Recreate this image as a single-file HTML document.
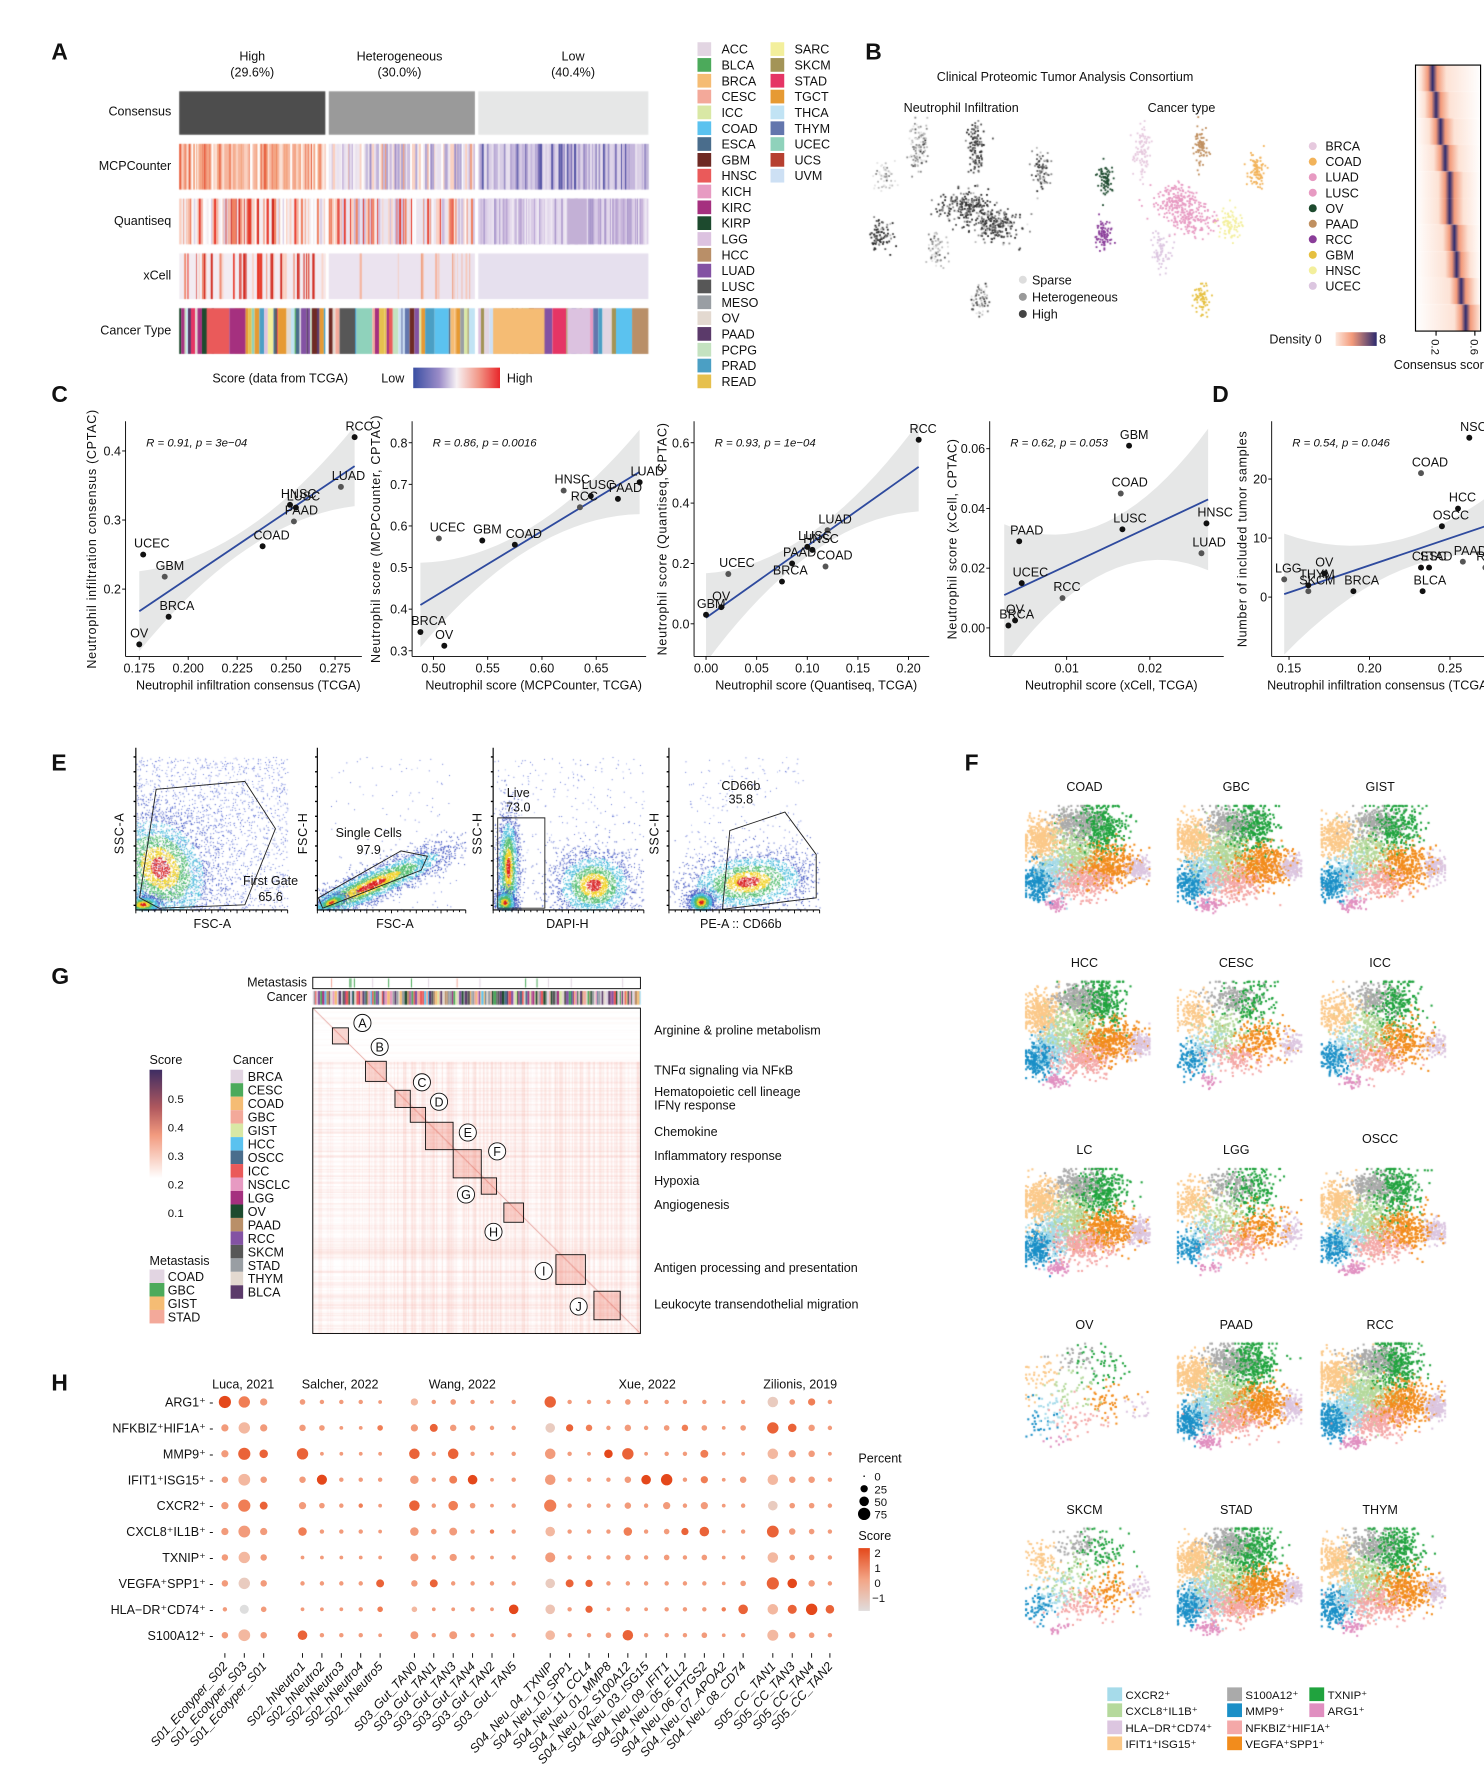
<!DOCTYPE html>
<html><head><meta charset="utf-8"><title>Neutrophil figure</title>
<style>
body{margin:0;background:#fff}
#wrap{position:relative;width:1484px;height:1789px;overflow:hidden;background:#fff}
canvas,svg{position:absolute;left:0;top:0}
.t{font-family:"Liberation Sans",sans-serif;font-size:11px;fill:#111}
.s{font-size:10px}
.L{font-family:"Liberation Sans",sans-serif;font-size:20px;font-weight:bold;fill:#111}
.it{font-style:italic}
</style></head><body>
<div id="wrap">
<canvas id="cv" width="1484" height="1789"></canvas>
<svg id="sv" width="1484" height="1789" viewBox="0 0 1300 1567" preserveAspectRatio="none">
<!-- panel letters -->
<text class="L" x="45" y="52">A</text>
<text class="L" x="758" y="52">B</text>
<text class="L" x="45" y="352">C</text>
<text class="L" x="1062" y="352">D</text>
<text class="L" x="45" y="675">E</text>
<text class="L" x="845" y="675">F</text>
<text class="L" x="45" y="862">G</text>
<text class="L" x="45" y="1218">H</text>

<!-- Panel A -->
<g text-anchor="middle">
<text class="t" x="221" y="53">High</text><text class="t" x="221" y="67">(29.6%)</text>
<text class="t" x="350" y="53">Heterogeneous</text><text class="t" x="350" y="67">(30.0%)</text>
<text class="t" x="502" y="53">Low</text><text class="t" x="502" y="67">(40.4%)</text>
</g>
<g text-anchor="end">
<text class="t" x="150" y="101">Consensus</text>
<text class="t" x="150" y="149">MCPCounter</text>
<text class="t" x="150" y="197">Quantiseq</text>
<text class="t" x="150" y="245">xCell</text>
<text class="t" x="150" y="293">Cancer Type</text>
</g>
<defs>
<linearGradient id="gA" x1="0" x2="1"><stop offset="0" stop-color="#3a4fa3"/><stop offset="0.3" stop-color="#9b8cc8"/><stop offset="0.5" stop-color="#f7f1f4"/><stop offset="0.75" stop-color="#f29a8a"/><stop offset="1" stop-color="#e8262a"/></linearGradient>
<linearGradient id="gD" x1="0" x2="1"><stop offset="0" stop-color="#fde7dc"/><stop offset="0.4" stop-color="#f39a7a"/><stop offset="1" stop-color="#2c2a6e"/></linearGradient>
<linearGradient id="gG" x1="0" x2="0" y1="0" y2="1"><stop offset="0" stop-color="#3e2d63"/><stop offset="0.35" stop-color="#b0585e"/><stop offset="0.6" stop-color="#f29a7e"/><stop offset="1" stop-color="#ffffff"/></linearGradient>
<linearGradient id="gH" x1="0" x2="0" y1="0" y2="1"><stop offset="0" stop-color="#e4481b"/><stop offset="0.5" stop-color="#f3a586"/><stop offset="1" stop-color="#e0dcdc"/></linearGradient>
</defs>
<g>
<text class="t" x="186" y="335">Score (data from TCGA)</text>
<text class="t" x="334" y="335">Low</text>
<rect x="362" y="322" width="76" height="18" fill="url(#gA)"/>
<text class="t" x="444" y="335">High</text>
</g>
<g id="legA"></g>

<!-- Panel B -->
<text class="t" x="933" y="71" text-anchor="middle">Clinical Proteomic Tumor Analysis Consortium</text>
<text class="t" x="842" y="98" text-anchor="middle">Neutrophil Infiltration</text>
<text class="t" x="1035" y="98" text-anchor="middle">Cancer type</text>
<g>
<circle cx="896" cy="245" r="3.5" fill="#ddd"/><text class="t" x="904" y="249">Sparse</text>
<circle cx="896" cy="260" r="3.5" fill="#999"/><text class="t" x="904" y="264">Heterogeneous</text>
<circle cx="896" cy="275" r="3.5" fill="#444"/><text class="t" x="904" y="279">High</text>
</g>
<g id="legB"></g>
<g>
<text class="t" x="1112" y="301">Density 0</text>
<rect x="1170" y="291" width="36" height="12" fill="url(#gD)"/>
<text class="t" x="1208" y="301">8</text>
<rect x="1240" y="57" width="57" height="233" fill="none" stroke="#000" stroke-width="1"/>
<line x1="1258" y1="290" x2="1258" y2="294" stroke="#000"/><line x1="1292" y1="290" x2="1292" y2="294" stroke="#000"/>
<text class="t s" transform="translate(1254,297) rotate(90)">0.2</text>
<text class="t s" transform="translate(1288,297) rotate(90)">0.6</text>
<text class="t" x="1221" y="323">Consensus score</text>
</g>

<!-- Panel C / D -->
<g id="plots"></g>

<!-- Panel E -->
<g id="flow"></g>

<!-- Panel F -->
<g id="umapT"></g>
<g id="legF"></g>

<!-- Panel G -->
<g>
<text class="t" x="269" y="864" text-anchor="end">Metastasis</text>
<text class="t" x="269" y="877" text-anchor="end">Cancer</text>
<rect x="274" y="856" width="287" height="10" fill="none" stroke="#000" stroke-width="0.8"/>
<rect x="274" y="883" width="287" height="285" fill="none" stroke="#000" stroke-width="0.8"/>
</g>
<g id="gBoxes"></g>
<g>
<text class="t" x="573" y="906">Arginine &amp; proline metabolism</text>
<text class="t" x="573" y="941">TNFα signaling via NFκB</text>
<text class="t" x="573" y="960">Hematopoietic cell lineage</text>
<text class="t" x="573" y="972">IFNγ response</text>
<text class="t" x="573" y="995">Chemokine</text>
<text class="t" x="573" y="1016">Inflammatory response</text>
<text class="t" x="573" y="1038">Hypoxia</text>
<text class="t" x="573" y="1059">Angiogenesis</text>
<text class="t" x="573" y="1114">Antigen processing and presentation</text>
<text class="t" x="573" y="1146">Leukocyte transendothelial migration</text>
</g>
<g>
<text class="t" x="131" y="932">Score</text>
<rect x="131" y="937" width="11" height="95" fill="url(#gG)"/>
<text class="t s" x="147" y="966">0.5</text><text class="t s" x="147" y="991">0.4</text>
<text class="t s" x="147" y="1016">0.3</text><text class="t s" x="147" y="1041">0.2</text>
<text class="t s" x="147" y="1066">0.1</text>
<text class="t" x="131" y="1108">Metastasis</text>
<text class="t" x="204" y="932">Cancer</text>
</g>
<g id="legG"></g>

<!-- Panel H -->
<g text-anchor="middle">
<text class="t" x="213" y="1216">Luca, 2021</text>
<text class="t" x="298" y="1216">Salcher, 2022</text>
<text class="t" x="405" y="1216">Wang, 2022</text>
<text class="t" x="567" y="1216">Xue, 2022</text>
<text class="t" x="701" y="1216">Zilionis, 2019</text>
</g>
<g id="dots"></g>
<g>
<text class="t" x="752" y="1281">Percent</text>
<circle cx="757" cy="1293" r="0.7" fill="#000"/><text class="t s" x="766" y="1297">0</text>
<circle cx="757" cy="1304" r="3.2" fill="#000"/><text class="t s" x="766" y="1308">25</text>
<circle cx="757" cy="1315" r="4.2" fill="#000"/><text class="t s" x="766" y="1319">50</text>
<circle cx="757" cy="1326" r="5.4" fill="#000"/><text class="t s" x="766" y="1330">75</text>
<text class="t" x="752" y="1349">Score</text>
<rect x="752" y="1356" width="10" height="55" fill="url(#gH)"/>
<text class="t s" x="766" y="1364">2</text><text class="t s" x="766" y="1377">1</text>
<text class="t s" x="766" y="1390">0</text><text class="t s" x="764" y="1403">−1</text>
</g>
</svg>
</div>
<script>
// ---------- chart data (panel C / D) ----------
const c1Names=["RCC","LUAD","HNSC","LUSC","PAAD","COAD","UCEC","GBM","BRCA","OV"];
const c1X=[0.285,0.278,0.252,0.255,0.254,0.238,0.177,0.188,0.190,0.175];
const c1Y=[0.420,0.348,0.322,0.318,0.298,0.262,0.250,0.218,0.160,0.120];
const c2Names=["LUAD","HNSC","LUSC","PAAD","RCC","COAD","GBM","UCEC","BRCA","OV"];
const c2X=[0.690,0.620,0.645,0.670,0.635,0.575,0.545,0.505,0.488,0.510];
const c2Y=[0.705,0.685,0.672,0.665,0.645,0.555,0.565,0.570,0.345,0.312];
const c3Names=["RCC","LUAD","LUSC","HNSC","COAD","PAAD","BRCA","UCEC","OV","GBM"];
const c3X=[0.210,0.120,0.100,0.105,0.118,0.085,0.075,0.022,0.015,0.000];
const c3Y=[0.610,0.310,0.255,0.245,0.190,0.200,0.140,0.165,0.055,0.030];
const c4Names=["GBM","COAD","HNSC","LUSC","LUAD","PAAD","UCEC","RCC","OV","BRCA"];
const c4X=[0.0175,0.0165,0.0268,0.0167,0.0262,0.0043,0.0046,0.0095,0.0038,0.0030];
const c4Y=[0.061,0.045,0.035,0.033,0.025,0.029,0.015,0.010,0.0025,0.0008];
const dNames=["NSCLC","COAD","HCC","OSCC","PAAD","CESC","STAD","LGG","THYM","OV","SKCM","BRCA","BLCA","RCC"];
const dX=[0.262,0.232,0.255,0.245,0.258,0.232,0.237,0.147,0.162,0.172,0.162,0.190,0.233,0.272];
const dY=[27,21,15,12,6,5,5,3,2,4,1,1,1,5];
const c1Ticks=[0.175,0.2,0.225,0.25,0.275], c1YT=[0.2,0.3,0.4];
const c2Ticks=[0.5,0.55,0.6,0.65], c2YT=[0.3,0.4,0.5,0.6,0.7,0.8];
const c3Ticks=[0,0.05,0.1,0.15,0.2], c3YT=[0,0.2,0.4,0.6];
const c4Ticks=[0.01,0.02], c4YT=[0,0.02,0.04,0.06];
const dTicks=[0.15,0.2,0.25], dYT=[0,10,20];
const stats=["R = 0.91, p = 3e−04","R = 0.86, p = 0.0016","R = 0.93, p = 1e−04","R = 0.62, p = 0.053","R = 0.54, p = 0.046"];
// ---------- dot plot data (panel H) ----------
const hRows=["ARG1⁺","NFKBIZ⁺HIF1A⁺","MMP9⁺","IFIT1⁺ISG15⁺","CXCR2⁺","CXCL8⁺IL1B⁺","TXNIP⁺","VEGFA⁺SPP1⁺","HLA−DR⁺CD74⁺","S100A12⁺"];
const hCols=["S01_Ecotyper_S02","S01_Ecotyper_S03","S01_Ecotyper_S01","S02_hNeutro1","S02_hNeutro2","S02_hNeutro3","S02_hNeutro4","S02_hNeutro5","S03_Gut_TAN0","S03_Gut_TAN1","S03_Gut_TAN3","S03_Gut_TAN4","S03_Gut_TAN2","S03_Gut_TAN5","S04_Neu_04_TXNIP","S04_Neu_10_SPP1","S04_Neu_11_CCL4","S04_Neu_01_MMP8","S04_Neu_02_S100A12","S04_Neu_03_ISG15","S04_Neu_09_IFIT1","S04_Neu_05_ELL2","S04_Neu_06_PTGS2","S04_Neu_07_APOA2","S04_Neu_08_CD74","S05_CC_TAN1","S05_CC_TAN3","S05_CC_TAN4","S05_CC_TAN2"];
const hPct=[
[70,60,20,10,5,5,5,3,20,5,10,5,3,5,60,5,5,5,10,5,5,5,5,3,5,50,10,20,5],
[20,60,20,15,10,3,3,10,20,25,15,10,5,5,40,20,15,5,15,5,10,15,10,3,10,60,30,15,5],
[20,70,30,60,3,3,3,3,50,5,50,5,3,5,50,5,3,30,60,3,5,5,25,3,3,50,20,15,3],
[15,65,15,15,45,5,5,5,30,5,25,40,3,5,50,5,5,5,15,40,60,5,20,3,15,50,15,15,5],
[20,70,25,20,10,5,5,3,50,5,40,10,3,5,70,5,5,5,15,5,20,5,20,3,5,40,10,10,5],
[20,65,20,30,5,5,5,3,30,10,25,5,5,5,40,5,5,5,30,5,10,20,40,3,5,65,15,10,5],
[15,60,15,3,3,3,3,3,25,5,20,5,3,5,45,5,5,5,10,5,10,5,10,3,5,50,10,10,5],
[15,60,15,5,5,5,5,25,15,25,5,5,5,5,40,25,20,5,5,5,5,5,5,3,10,70,40,15,5],
[5,35,10,3,3,3,5,10,10,3,3,5,3,40,40,5,20,3,5,3,5,5,5,5,40,50,35,60,30],
[15,65,15,40,5,5,5,3,25,5,25,5,3,5,40,5,5,10,50,5,5,5,10,3,5,55,15,10,5]];
const hScore=[
[2,1,.5,.5,.5,.5,.5,.5,0,.5,.5,.5,.5,.5,1.5,.5,.5,.5,.5,.5,.5,.5,.5,.5,.5,-.5,.5,1,.5],
[.5,0,.5,.5,.5,.5,.5,1,.5,1.5,.5,.5,.5,.5,-.5,1.5,1,.5,.5,.5,.5,1,.5,.5,.5,1.5,1.5,.5,.5],
[.5,1.5,1.5,1.5,.5,.5,.5,.5,1.5,.5,1.5,.5,.5,.5,.5,.5,.5,2,1.5,.5,.5,.5,1,.5,.5,0,.5,.5,.5],
[.5,0,.5,.5,2,.5,.5,.5,.5,.5,1,2,.5,.5,.5,.5,.5,.5,.5,2,2,.5,1,.5,.5,0,.5,.5,.5],
[.5,1,1.5,.5,.5,.5,1,.5,1.5,.5,1,.5,.5,.5,1,.5,.5,.5,.5,.5,.5,.5,.5,.5,.5,-.5,.5,.5,.5],
[.5,.5,.5,1,.5,.5,.5,.5,.5,.5,.5,.5,1,.5,0,.5,.5,.5,1,.5,.5,1.5,1.5,.5,.5,1.5,.5,.5,.5],
[.5,0,.5,.5,.5,.5,.5,.5,.5,.5,.5,.5,.5,.5,.5,.5,.5,.5,.5,.5,.5,.5,.5,.5,.5,0,.5,.5,.5],
[.5,-.5,.5,.5,.5,.5,.5,1.5,.5,1.5,.5,.5,.5,.5,-.5,1.5,1.5,.5,.5,.5,.5,.5,.5,.5,.5,1.5,2,.5,.5],
[.5,-1,.5,.5,.5,.5,.5,1,0,.5,.5,.5,.5,2,-.3,.5,1.5,.5,.5,.5,.5,.5,.5,1,1.5,0,1.5,2,1.5],
[.5,0,.5,1.5,.5,.5,.5,.5,.5,.5,.5,.5,.5,.5,0,.5,.5,.5,1.5,.5,.5,.5,.5,.5,.5,0,.5,.5,.5]];
const hColX=[197,214,231,265,282,299,316,333,363,380,397,414,431,450,482,499,516,533,550,566,584,600,617,634,651,677,694,711,727];

// ---------- helpers ----------
const NS="http://www.w3.org/2000/svg";
function add(p,tag,a,txt){const e=document.createElementNS(NS,tag);for(const k in a)e.setAttribute(k,a[k]);if(txt!==undefined)e.textContent=txt;p.appendChild(e);return e;}
let seed=12345;function rnd(){seed|=0;seed=seed+0x6D2B79F5|0;let t=Math.imul(seed^seed>>>15,1|seed);t=t+Math.imul(t^t>>>7,61|t)^t;return((t^t>>>14)>>>0)/4294967296;}
function gauss(){let u=1-rnd(),v=rnd();return Math.sqrt(-2*Math.log(u))*Math.cos(2*Math.PI*v);}
const cv=document.getElementById('cv');const ctx=cv.getContext('2d');
ctx.setTransform(1484/1300,0,0,1789/1567,0,0);
const pick=a=>a[Math.floor(rnd()*a.length)];

// ---------- Panel A ----------
const aNames1=["ACC","BLCA","BRCA","CESC","ICC","COAD","ESCA","GBM","HNSC","KICH","KIRC","KIRP","LGG","HCC","LUAD","LUSC","MESO","OV","PAAD","PCPG","PRAD","READ"];
const aCols1=["#e2d5e2","#4caa5b","#f5bc74","#f3a99a","#d9e8a5","#5bc2ef","#4a6d8c","#6e2a24","#ea5a5a","#e79ac2","#a5307f","#1d4a2e","#dcc2e0","#b98f68","#8352a3","#575757","#999ea3","#e3d9d0","#5b3a6a","#c4e2c0","#4b9fc4","#e6c04e"];
const aNames2=["SARC","SKCM","STAD","TGCT","THCA","THYM","UCEC","UCS","UVM"];
const aCols2=["#f3ef9c","#a39457","#e53565","#e69a33","#c1e3f4","#6376ad","#8fd2bb","#b64030","#cde0f4"];
const legA=document.getElementById('legA');
aNames1.forEach((n,i)=>{const y=37+i*13.86;
 const r=add(legA,'rect',{x:611,y:y,width:12,height:12,fill:aCols1[i]});
 
 const t=add(legA,'text',{class:'t',x:632,y:y+10},n);
 });
aNames2.forEach((n,i)=>{const y=37+i*13.86;
 const r=add(legA,'rect',{x:675,y:y,width:12,height:12,fill:aCols2[i]});
 
 const t=add(legA,'text',{class:'t',x:696,y:y+10},n);
 });
const secs=[[157,285],[288,416],[419,568]];
ctx.fillStyle="#4d4d4d";ctx.fillRect(157,80,128,38);
ctx.fillStyle="#9a9a9a";ctx.fillRect(288,80,128,38);
ctx.fillStyle="#e6e7e7";ctx.fillRect(419,80,149,38);
function stripes(x0,x1,y0,y1,base,pal,p){ctx.fillStyle=base;ctx.fillRect(x0,y0,x1-x0,y1-y0);let x=x0;while(x<x1){const w=0.5+rnd()*1.6;if(rnd()<p){ctx.fillStyle=pick(pal);ctx.fillRect(x,y0,Math.min(w,x1-x),y1-y0);}x+=w;}}
stripes(157,285,126,166,"#fbe0d4",["#f4a582","#ef8a62","#fbd0bf","#e8603f","#f6b59d","#fff","#f08a6a"],0.9);
stripes(288,416,126,166,"#eee6ef",["#c9b8dc","#9d8ec7","#fbd0bf","#ef9a7a","#e8e0ef","#b0a4d2","#fff"],0.85);
stripes(419,568,126,166,"#ddd3e8",["#d8cde6","#b7a7d4","#7f73b8","#e8e0ef","#5a58a8","#c4b6dc","#9a8ec6"],0.85);
stripes(157,285,174,214,"#f4eef2",["#e8392a","#f08060","#fbd0c0","#dcd0e6","#fff","#f5b5a0","#d0281e"],0.7);
stripes(288,416,174,214,"#ece4ee",["#f08060","#d0c0e0","#fbd0c0","#e8392a","#fff","#c8b8dc"],0.7);
stripes(419,568,174,214,"#d9cbe6",["#c9b5db","#b9a5d3","#e6dcee","#a997cb","#f0eaf4"],0.75);
ctx.fillStyle="#c3b0d6";ctx.fillRect(497,174,17,40);
stripes(157,285,222,262,"#f3ecf2",["#e8392a","#f08a70","#fbd0c0","#d22a20"],0.35);
stripes(288,416,222,262,"#ebe3ef",["#f5b5a0","#f7c8b8","#f0a080"],0.12);
ctx.fillStyle="#e6e0ee";ctx.fillRect(419,222,149,40);
const allCancer=aCols1.concat(aCols2);
for(const [x0,x1] of secs){let x=x0;while(x<x1){const w=rnd()<0.18?6+rnd()*14:1+rnd()*4;ctx.fillStyle=pick(allCancer);ctx.fillRect(x,270,Math.min(w,x1-x),40);x+=w;}}
ctx.fillStyle="#f5bc74";ctx.fillRect(432,270,45,40);ctx.fillStyle="#dcc2e0";ctx.fillRect(497,270,20,40);
ctx.fillStyle="#ea5a5a";ctx.fillRect(181,270,20,40);ctx.fillStyle="#a5307f";ctx.fillRect(201,270,14,40);

// ---------- Panel B ----------
const bNames=["BRCA","COAD","LUAD","LUSC","OV","PAAD","RCC","GBM","HNSC","UCEC"];
const bCols=["#e6c9de","#f2b35a","#e79ac2","#e79ac2","#1d4a2e","#c09060","#8a3d99","#e6c040","#f3ef9c","#dcc6e0"];
const legB=document.getElementById('legB');
bNames.forEach((n,i)=>{const y=128+i*13.6;
 const c=add(legB,'circle',{cx:1150,cy:y,r:3.5,fill:bCols[i]});
 
 const t=add(legB,'text',{class:'t',x:1161,y:y+4},n);
 });
function blob(cx,cy,sx,sy,n,colf,sz){for(let i=0;i<n;i++){ctx.fillStyle=colf();ctx.fillRect(cx+gauss()*sx,cy+gauss()*sy,sz,sz);}}
const grays=["#e3e3e3","#bbbbbb","#8a8a8a","#555555","#2a2a2a"];
function gcol(d){return()=>grays[Math.min(4,Math.max(0,Math.floor(d*5+gauss()*1.1)))];}
[[804,128,4,11,110,0.35],[854,130,3.5,12,110,0.8],[775,155,4,6,50,0.15],[911,149,4,8,80,0.6],[845,180,11,7,220,0.75],[871,197,11,7,220,0.7],[771,205,5,7,80,0.85],[821,219,4,8,60,0.35],[858,263,4,7,60,0.5]].forEach(c=>blob(c[0],c[1],c[2],c[3],c[4],gcol(c[5]),1.6));
[[1000,132,3.5,12,90,"#e6c9de"],[1051,130,3,10,80,"#c09060"],[1100,150,4,8,90,"#f2b35a"],[967,157,3,6,70,"#1d4a2e"],[1030,175,10,8,200,"#e79ac2"],[1045,192,10,7,150,"#e79ac2"],[1077,196,5,7,90,"#f3ef9c"],[966,205,4,6,80,"#8a3d99"],[1017,220,4,8,70,"#dcc6e0"],[1052,262,3.5,7,70,"#e6c040"]].forEach(c=>blob(c[0],c[1],c[2],c[3],c[4],()=>c[5],1.6));
const peaks=[1255,1258,1262,1266,1270,1270,1274,1276,1280,1284];
peaks.forEach((p,i)=>{const y0=57+i*23.3;const g=ctx.createLinearGradient(1240,0,1297,0);
 const f=(x)=>(x-1240)/57;
 g.addColorStop(0,"#fff");g.addColorStop(Math.max(0,f(p-10)),"#fde3d6");g.addColorStop(f(p-4),"#f39a7a");g.addColorStop(f(p),"#2c2a6e");g.addColorStop(f(p+4),"#f39a7a");g.addColorStop(Math.min(1,f(p+12)),"#fde3d6");g.addColorStop(1,"#fff");
 ctx.fillStyle=g;ctx.fillRect(1240,y0,57,23.3);});

// ---------- Panels C / D ----------
const plots=[
 {n:c1Names,x:c1X,y:c1Y,xt:c1Ticks,yt:c1YT,xr:[0.175,122,0.275,293.5],yr:[0.2,516,0.4,395],L:110,R:317,line:[0.175,0.168,0.285,0.378],band:[9,26],dec:3,yl:"Neutrophil infiltration consensus (CPTAC)",xl:"Neutrophil infiltration consensus (TCGA)",ylx:84},
 {n:c2Names,x:c2X,y:c2Y,xt:c2Ticks,yt:c2YT,xr:[0.5,379.7,0.65,522.3],yr:[0.3,570,0.8,387.8],L:361,R:566,line:[0.488,0.41,0.69,0.73],band:[9,28],dec:2,yl:"Neutrophil score (MCPCounter, CPTAC)",xl:"Neutrophil score (MCPCounter, TCGA)",ylx:333},
 {n:c3Names,x:c3X,y:c3Y,xt:c3Ticks,yt:c3YT,xr:[0,618.5,0.2,795.9],yr:[0,546.4,0.6,387.8],L:608,R:814,line:[0,0.02,0.21,0.52],band:[9,30],dec:2,yl:"Neutrophil score (Quantiseq, CPTAC)",xl:"Neutrophil score (Quantiseq, TCGA)",ylx:584},
 {n:c4Names,x:c4X,y:c4Y,xt:c4Ticks,yt:c4YT,xr:[0.01,934.4,0.02,1007.3],yr:[0,550,0.06,393],L:867,R:1072,line:[0.0025,0.011,0.027,0.043],band:[22,40],dec:2,yl:"Neutrophil score (xCell, CPTAC)",xl:"Neutrophil score (xCell, TCGA)",ylx:838},
 {n:dNames,x:dX,y:dY,xt:dTicks,yt:dYT,xr:[0.15,1129.2,0.25,1270.2],yr:[0,523,20,419.6],L:1114,R:1300,line:[0.147,0.5,0.31,15.5],band:[13,40],dec:2,yl:"Number of included tumor samples",xl:"Neutrophil infiltration consensus (TCGA)",ylx:1092,intY:true}];
const PG=document.getElementById('plots');
const TOP=369,BOT=575;
plots.forEach((P,pi)=>{
 const sx=v=>P.xr[1]+(v-P.xr[0])*(P.xr[3]-P.xr[1])/(P.xr[2]-P.xr[0]);
 const sy=v=>P.yr[1]+(v-P.yr[0])*(P.yr[3]-P.yr[1])/(P.yr[2]-P.yr[0]);
 const g=add(PG,'g',{});
 
 const cp=add(g,'clipPath',{id:'cp'+pi});add(cp,'rect',{x:P.L,y:TOP,width:P.R-P.L,height:BOT-TOP});
 const x0=P.line[0],x1=P.line[2],xm=(x0+x1)/2;let up=[],dn=[];
 for(let k=0;k<=20;k++){const xv=x0+(x1-x0)*k/20;const yv=P.line[1]+(P.line[3]-P.line[1])*k/20;const w=P.band[0]+P.band[1]*Math.pow((xv-xm)/(x1-xm),2);up.push(sx(xv)+','+(sy(yv)-w));dn.unshift(sx(xv)+','+(sy(yv)+w));}
 const band=add(g,'polygon',{points:up.concat(dn).join(' '),fill:'#e6e7e7','clip-path':'url(#cp'+pi+')'});
 
 const ln=add(g,'line',{x1:sx(x0),y1:sy(P.line[1]),x2:sx(x1),y2:sy(P.line[3]),stroke:'#2e4a9e','stroke-width':1.6,'clip-path':'url(#cp'+pi+')'});
 
 add(g,'line',{x1:P.L,y1:TOP,x2:P.L,y2:BOT,stroke:'#000','stroke-width':0.8});
 add(g,'line',{x1:P.L,y1:BOT,x2:P.R,y2:BOT,stroke:'#000','stroke-width':0.8});
 P.xt.forEach(v=>{add(g,'line',{x1:sx(v),y1:BOT,x2:sx(v),y2:BOT+3,stroke:'#000','stroke-width':0.8});
  const t=add(g,'text',{class:'t',x:sx(v),y:BOT+14,'text-anchor':'middle'},P.intY?v.toFixed(2):(pi===0?v.toFixed(3):v.toFixed(2)));
  });
 P.yt.forEach(v=>{add(g,'line',{x1:P.L-3,y1:sy(v),x2:P.L,y2:sy(v),stroke:'#000','stroke-width':0.8});
  const t=add(g,'text',{class:'t',x:P.L-4,y:sy(v)+4,'text-anchor':'end'},P.intY?String(v):(pi===0?v.toFixed(1):(pi===3?v.toFixed(2):v.toFixed(1))));
  });
 const st=add(g,'text',{class:'t s it',x:P.L+18,y:391},stats[pi]);
 
 const yt=add(g,'text',{class:'t',transform:`translate(${P.ylx},${(TOP+BOT)/2}) rotate(-90)`,'text-anchor':'middle','letter-spacing':'0.6'},P.yl);
 
 const xt=add(g,'text',{class:'t',x:pi===4?1110:(P.L+P.R)/2+4,y:604,'text-anchor':pi===4?'start':'middle'},P.xl);
 
 P.n.forEach((nm,i)=>{const cx=sx(P.x[i]),cy=sy(P.y[i]);
  const c=add(g,'circle',{cx:cx,cy:cy,r:2.6,fill:i%3===1?'#555':'#111'});
  
  const t=add(g,'text',{class:'t',x:cx-8,y:cy-6},nm);
  });
});

// ---------- Panel E (flow cytometry) ----------
const FG=document.getElementById('flow');
const boxes=[[119,252],[278,408],[432,564],[586,718]];
const FY0=663,FY1=797;
function dcol(r){return r<0.35?"#d7191c":r<0.7?"#f0d020":r<1.1?"#4cba6a":r<1.6?"#3fb8d8":"#3a4fbf";}
function flowBlob(cx,cy,sx,sy,n,rot,bx){const c=Math.cos(rot),s=Math.sin(rot);for(let i=0;i<n;i++){const a=gauss(),b=gauss();const r=Math.sqrt(a*a+b*b);const x=cx+(a*sx)*c-(b*sy)*s,y=cy+(a*sx)*s+(b*sy)*c;if(x<bx[0]||x>bx[1]||y<FY0||y>FY1)continue;ctx.fillStyle=dcol(r);ctx.fillRect(x,y,0.9,0.9);}}
function uni(bx,n){for(let i=0;i<n;i++){ctx.fillStyle=rnd()<0.85?"#4a5fd0":"#8fa0e8";ctx.fillRect(bx[0]+rnd()*(bx[1]-bx[0]),FY0+rnd()*(FY1-FY0),0.8,0.8);}}
uni(boxes[0],1800);flowBlob(140,760,22,28,3500,-0.6,boxes[0]);flowBlob(125,792,8,4,800,0,boxes[0]);
uni([290,400],120);flowBlob(325,775,40,7,3500,-0.42,boxes[1]);flowBlob(290,790,8,3,500,-0.4,boxes[1]);
uni(boxes[2],300);flowBlob(445,760,5,25,1800,0,boxes[2]);flowBlob(442,790,5,5,600,0,boxes[2]);flowBlob(520,775,18,15,2200,0,boxes[2]);
uni([600,705],250);flowBlob(655,772,28,13,2500,-0.1,boxes[3]);flowBlob(614,790,6,5,900,0,boxes[3]);
boxes.forEach((b,i)=>{
 const ax=add(FG,'path',{d:`M${b[0]},${FY0-8}V${FY1}H${b[1]}`,fill:'none',stroke:'#000','stroke-width':1});
 
 for(let k=0;k<=10;k++){add(FG,'line',{x1:b[0]-2,x2:b[0],y1:FY0+k*13,y2:FY0+k*13,stroke:'#000','stroke-width':1.2});}
 for(let k=0;k<=24;k++){add(FG,'line',{x1:b[0]+k*(b[1]-b[0])/24,x2:b[0]+k*(b[1]-b[0])/24,y1:FY1,y2:FY1+(k%4===0?3:2),stroke:'#000','stroke-width':0.8});}
});
const gates=["136.8,691.4 214.5,684.4 241.3,725.8 214.5,792.5 139.4,795.5 122.3,786.4","278.9,786.4 351.3,745.3 374.4,750 369,762.2 282.7,795.5","436,716.4 477.3,716.4 477.3,795.5 436,795.5","639.3,727.5 687.6,711.3 715,748.4 715,786.4 632.9,796.5"];
gates.forEach(p=>{const e=add(FG,'polygon',{points:p,fill:'none',stroke:'#222','stroke-width':0.8});
 });
[["First Gate",237,775],["65.6",237,789],["Single Cells",323,733],["97.9",323,748],["Live",454,698],["73.0",454,711],["CD66b",649,692],["35.8",649,704]].forEach(a=>{const t=add(FG,'text',{class:'t',x:a[1],y:a[2],'text-anchor':'middle'},a[0]);
 });
[["SSC-A",108],["FSC-H",269],["SSC-H",422],["SSC-H",577]].forEach(a=>{const t=add(FG,'text',{class:'t',transform:`translate(${a[1]},730) rotate(-90)`,'text-anchor':'middle','letter-spacing':'0.6'},a[0]);
 });
[["FSC-A",186],["FSC-A",346],["DAPI-H",497],["PE-A :: CD66b",649]].forEach(a=>{const t=add(FG,'text',{class:'t',x:a[1],y:813,'text-anchor':'middle'},a[0]);
 });

// ---------- Panel F (UMAPs) ----------
const fNames=["COAD","GBC","GIST","HCC","CESC","ICC","LC","LGG","OSCC","OV","PAAD","RCC","SKCM","STAD","THYM"];
const fDens=[1,1,0.8,1,0.45,0.6,1,0.5,0.8,0.12,1,1,0.25,1,0.8];
const fColX=[950,1083,1209],fRowY=[693,847,1011,1164,1326];
const clus=[[0.13,0.3,.08,.1,"#fbc98a",1.2],[0.42,0.16,.1,.07,"#aaaaaa",1],[0.6,0.2,.1,.12,"#20a33e",1.2],[0.38,0.45,.1,.12,"#b5d99c",1.2],[0.66,0.55,.12,.1,"#f28c1c",1.4],[0.45,0.7,.13,.08,"#f4a8a8",1.2],[0.1,0.72,.06,.08,"#1a8fc7",0.8],[0.22,0.62,.08,.1,"#a6dbea",0.8],[0.92,0.58,.05,.06,"#dcc6e0",0.5],[0.25,0.92,.05,.03,"#e08fc0",0.2]];
const wsum=clus.reduce((s,c)=>s+c[5],0);
const UT=document.getElementById('umapT');
fNames.forEach((nm,i)=>{const cx=fColX[i%3],ty=fRowY[Math.floor(i/3)]-(nm==="OSCC"?10:0);const ty0=fRowY[Math.floor(i/3)];
 const t=add(UT,'text',{class:'t',x:cx,y:ty,'text-anchor':'middle','font-size':'12'},nm);
 
 const x0=cx-52,y0=ty0+12,W=108,H=94;const N=Math.round(3200*fDens[i]);
 for(let k=0;k<N;k++){let u=rnd()*wsum,c=clus[0];for(const cc of clus){if(u<cc[5]){c=cc;break;}u-=cc[5];}
  const px=Math.min(1,Math.max(0,c[0]+gauss()*c[2])),py=Math.min(1,Math.max(0,c[1]+gauss()*c[3]));
  ctx.fillStyle=c[4];ctx.fillRect(x0+px*W,y0+py*H,1.8,1.8);}
});
const fLeg=[["CXCR2⁺","#a6dbea",970,1484],["CXCL8⁺IL1B⁺","#b5d99c",970,1498],["HLA−DR⁺CD74⁺","#dcc6e0",970,1513],["IFIT1⁺ISG15⁺","#fbc98a",970,1527],["S100A12⁺","#aaaaaa",1075,1484],["MMP9⁺","#1a8fc7",1075,1498],["NFKBIZ⁺HIF1A⁺","#f4a8a8",1075,1513],["VEGFA⁺SPP1⁺","#f28c1c",1075,1527],["TXNIP⁺","#20a33e",1147,1484],["ARG1⁺","#e08fc0",1147,1498]];
const LF=document.getElementById('legF');
fLeg.forEach(a=>{const r=add(LF,'rect',{x:a[2],y:a[3]-6,width:13,height:12,fill:a[1]});
 
 const t=add(LF,'text',{class:'t s',x:a[2]+16,y:a[3]+4},a[0]);
 });

// ---------- Panel G ----------
const gCan=["BRCA","CESC","COAD","GBC","GIST","HCC","OSCC","ICC","NSCLC","LGG","OV","PAAD","RCC","SKCM","STAD","THYM","BLCA"];
const gCol=["#e2d5e2","#4caa5b","#f5bc74","#f3a99a","#d9e8a5","#5bc2ef","#4a6d8c","#ea5a5a","#e79ac2","#a5307f","#1d4a2e","#b98f68","#8352a3","#575757","#999ea3","#e3d9d0","#5b3a6a"];
const LG=document.getElementById('legG');
gCan.forEach((n,i)=>{const y=937+i*11.8;
 const r=add(LG,'rect',{x:202,y:y,width:11,height:11.8,fill:gCol[i]});
 
 const t=add(LG,'text',{class:'t',x:217,y:y+10},n);
 });
[["COAD","#e2d5e2"],["GBC","#4caa5b"],["GIST","#f5bc74"],["STAD","#f3a99a"]].forEach((a,i)=>{const y=1112+i*11.8;
 const r=add(LG,'rect',{x:131,y:y,width:13,height:11.8,fill:a[1]});
 
 const t=add(LG,'text',{class:'t',x:147,y:y+10},a[0]);
 });
// cancer bar and metastasis bar
{let x=274;while(x<561){const w=0.8+rnd()*1.6;ctx.fillStyle=pick(gCol);ctx.fillRect(x,868,Math.min(w,561-x),12);x+=w;}}
[[290,"#f3a99a"],[306,"#4caa5b"],[307,"#4caa5b"],[310,"#4caa5b"],[326,"#e2d5e2"],[340,"#4caa5b"],[360,"#4caa5b"],[375,"#e2d5e2"],[400,"#f3a99a"],[420,"#e2d5e2"],[460,"#4caa5b"],[470,"#4caa5b"],[480,"#e2d5e2"],[500,"#e2d5e2"],[545,"#e2d5e2"]].forEach(a=>{ctx.fillStyle=a[1];ctx.fillRect(a[0],857,0.9,8);});
// heatmap texture
for(let x=274;x<561;x+=1){const a=Math.pow(rnd(),2)*0.16*(x<320?0.5:1);ctx.fillStyle=`rgba(232,80,60,${a})`;ctx.fillRect(x,930,1,238);}
for(let y=883;y<1168;y+=1){const a=Math.pow(rnd(),2)*0.14*(y<930?0.4:1);ctx.fillStyle=`rgba(232,80,60,${a})`;ctx.fillRect(274,y,287,1);}
ctx.strokeStyle="rgba(200,60,50,0.6)";ctx.lineWidth=0.8;ctx.beginPath();ctx.moveTo(274,883);ctx.lineTo(561,1168);ctx.stroke();
const GB=document.getElementById('gBoxes');
const mods=[["A",291.2,900.3,305.2,914.4,317.5,896],["B",320.2,929.6,338.4,947.2,332.6,917],["C",346,955,359.4,970,369.6,948],["D",359.4,970,372.8,983,384.6,965],["E",372.8,983,396.9,1007,409.8,992],["F",397,1007,421.6,1031.7,435.5,1008.5],["G",421.6,1031.7,435,1046,408.2,1046.3],["H",441.4,1053.7,458.6,1070.6,432.3,1079],["I",487,1099,512.8,1125,476.3,1113.3],["J",520.3,1131,543.3,1156,506.9,1144.4]];
mods.forEach(m=>{ctx.fillStyle="rgba(230,90,70,0.25)";ctx.fillRect(m[1],m[2],m[3]-m[1],m[4]-m[2]);
 const r=add(GB,'rect',{x:m[1],y:m[2],width:m[3]-m[1],height:m[4]-m[2],fill:'none',stroke:'#111','stroke-width':0.8});
 
 const c=add(GB,'circle',{cx:m[5],cy:m[6],r:7.5,fill:'#fff',stroke:'#111','stroke-width':0.8});
 
 const t=add(GB,'text',{class:'t',x:m[5],y:m[6]+4,'text-anchor':'middle'},m[0]);
 });

// ---------- Panel H ----------
const DG=document.getElementById('dots');
function scol(s){const st=[[-1,[222,222,222]],[0,[243,184,160]],[1,[240,126,85]],[2,[228,72,27]]];s=Math.max(-1,Math.min(2,s));for(let i=0;i<3;i++){if(s<=st[i+1][0]){const f=(s-st[i][0])/(st[i+1][0]-st[i][0]);const c=st[i][1].map((v,k)=>Math.round(v+(st[i+1][1][k]-v)*f));return`rgb(${c})`;}}return"rgb(228,72,27)";}
hRows.forEach((rn,ri)=>{const y=1228+ri*22.7;
 const t=add(DG,'text',{class:'t',x:187,y:y+4,'text-anchor':'end'},rn+" -");
 
 hCols.forEach((cn,ci)=>{const p=hPct[ri][ci],s=hScore[ri][ci];
  const c=add(DG,'circle',{cx:hColX[ci],cy:y,r:0.7+4.8*Math.sqrt(p/75),fill:scol(s)});
  });});
hCols.forEach((cn,ci)=>{const x=hColX[ci];
 add(DG,'line',{x1:x,y1:1448,x2:x,y2:1452,stroke:'#000','stroke-width':0.8});
 const t=add(DG,'text',{class:'t it',transform:`translate(${x+3},1460) rotate(-48)`,'text-anchor':'end'},cn);
 });
</script>
</body></html>
